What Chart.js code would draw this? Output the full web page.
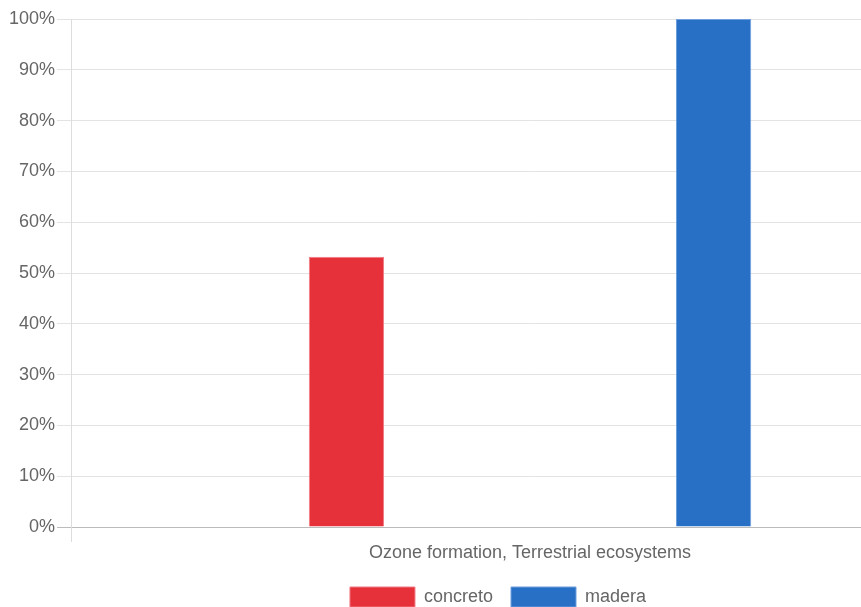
<!DOCTYPE html>
<html>
<head>
<meta charset="utf-8">
<script src="https://cdn.jsdelivr.net/npm/chart.js@4"></script>
<style>
  html, body { margin: 0; padding: 0; overflow: hidden; background: #fff; }
  #wrap { position: absolute; left: 0; top: 0; width: 990px; height: 617px; }
</style>
</head>
<body>
<div id="wrap"><canvas id="chart"></canvas></div>
<script>
const categories = ['Ozone formation, Terrestrial ecosystems'];
const seriesNames = ['concreto', 'madera'];
const concreto = [53.2];
const madera = [100];
const fillColors = ['#e6303a', '#2870c6'];
const edgeColors = ['#f07a82', '#6f9fdc'];

Chart.defaults.font.family = '"Liberation Sans", Arial, sans-serif';
Chart.defaults.font.size = 18;
Chart.defaults.color = '#666';

const ctx = document.getElementById('chart');
const chart = new Chart(ctx, {
    type: 'bar',
    data: {
        labels: categories,
        datasets: [concreto, madera].map(function (values, i) {
            return {
                label: seriesNames[i],
                data: values,
                backgroundColor: fillColors[i],
                borderColor: edgeColors[i],
                borderWidth: 1,
                barPercentage: 0.205,
                categoryPercentage: 0.8,
            };
        }),
    },
    options: {
        responsive: true,
        maintainAspectRatio: false,
        animation: false,
        layout: { padding: { left: 7, top: 19, right: 1, bottom: 0 } },
        plugins: {
            legend: {
                position: 'bottom',
                labels: { boxWidth: 65, boxHeight: 20, padding: 18 },
            },
            tooltip: { enabled: false },
        },
        scales: {
            x: {
                grid: {
                    color: '#ddd',
                    tickLength: 15,
                    drawOnChartArea: false,
                },
                border: { color: '#bbb' },
                ticks: { padding: 0 },
                // leave room between the category label and the legend
                afterFit: function (scale) { scale.height = 42; },
            },
            y: {
                min: 0,
                max: 100,
                ticks: {
                    stepSize: 10,
                    padding: 2,
                    callback: function (v) { return v + '%'; },
                },
                grid: {
                    color: function (c) { return c.tick && c.tick.value === 0 ? '#bbb' : '#e3e3e3'; },
                    tickLength: 14,
                },
                border: { color: '#ddd' },
            },
        },
    },
});
</script>
</body>
</html>
